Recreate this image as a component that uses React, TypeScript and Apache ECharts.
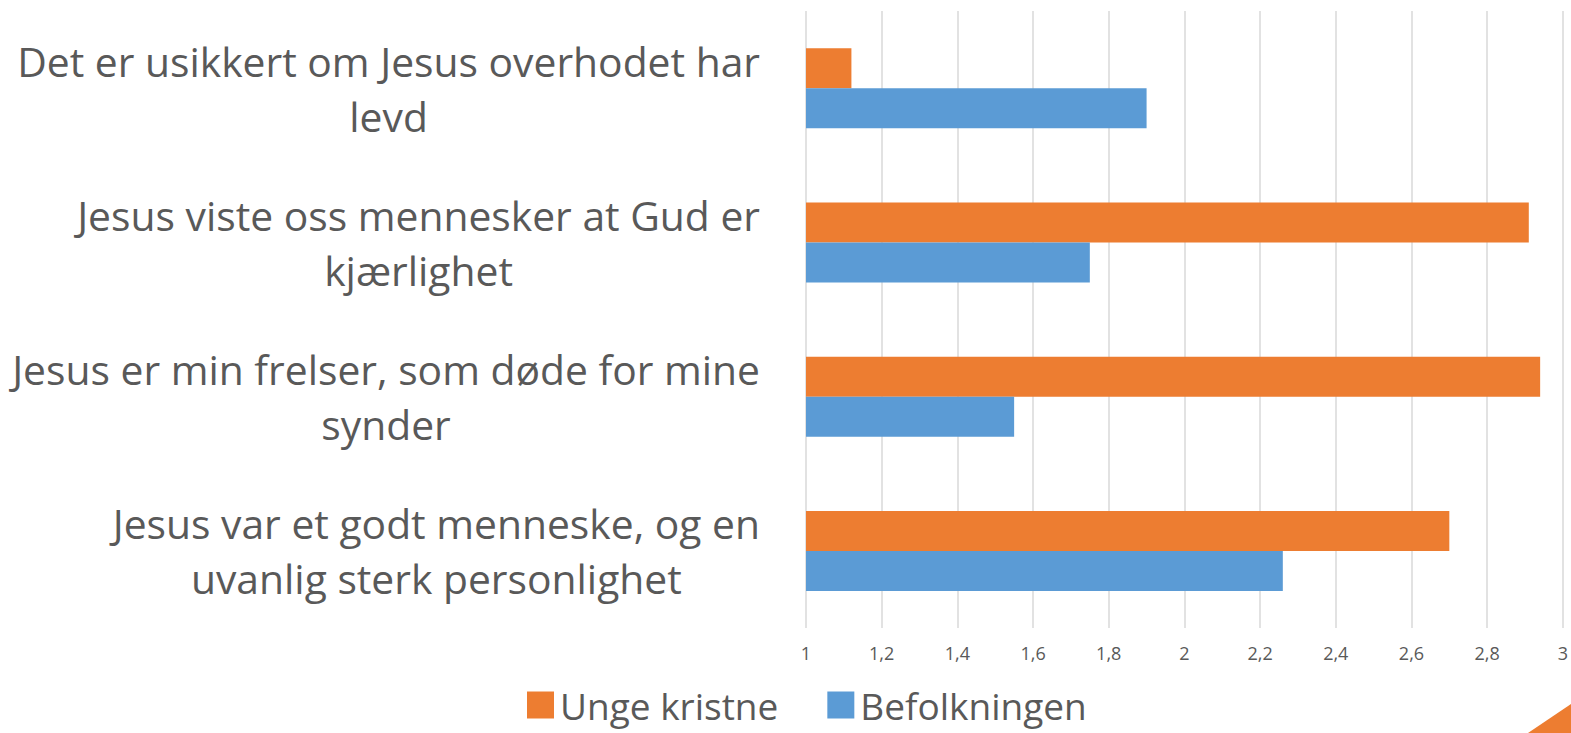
import React, { useEffect, useRef } from "react";
import * as echarts from "echarts";

const categories = [
  "Det er usikkert om Jesus overhodet har\nlevd",
  "Jesus viste oss mennesker at Gud er\nkjærlighet",
  "Jesus er min frelser, som døde for mine\nsynder",
  "Jesus var et godt menneske, og en\nuvanlig sterk personlighet",
];
const ungeKristne = [1.12, 2.91, 2.94, 2.7];
const befolkningen = [1.9, 1.75, 1.55, 2.26];
const seriesNames = ["Unge kristne", "Befolkningen"];
const xMin = 1;
const xMax = 3;
const xStep = 0.2;

const FONT = "'Open Sans', Lato, 'Noto Sans', sans-serif";
const TEXT = "#595959";

export default function App() {
  const ref = useRef<HTMLDivElement>(null);
  useEffect(() => {
    if (!ref.current) return;
    const chart = echarts.init(ref.current, null, { renderer: "svg" });
    chart.setOption({
      animation: false,
      backgroundColor: "#ffffff",
      grid: { left: 806, right: 3, top: 11, bottom: 105, containLabel: false },
      legend: {
        data: seriesNames,
        bottom: 8,
        left: 527,
        padding: 0,
        itemWidth: 27,
        itemHeight: 27,
        itemGap: 49,
        icon: "rect",
        textStyle: {
          fontSize: 37,
          lineHeight: 40,
          color: TEXT,
          fontFamily: FONT,
          padding: [0, 0, 0, 1],
        },
      },
      xAxis: {
        type: "value",
        min: xMin,
        max: xMax,
        interval: xStep,
        axisLine: { show: false },
        axisTick: { show: false },
        splitLine: { show: true, lineStyle: { color: "#d9d9d9", width: 1.5 } },
        axisLabel: {
          fontSize: 18,
          color: TEXT,
          fontFamily: FONT,
          margin: 16,
          formatter: (v: number) => String(Math.round(v * 10) / 10).replace(".", ","),
        },
      },
      yAxis: {
        type: "category",
        data: categories,
        inverse: true,
        axisLine: { show: false },
        axisTick: { show: false },
        axisLabel: {
          margin: 46,
          align: "right",
          formatter: (v: string) =>
            v
              .split("\n")
              .map((l) => "{a|" + l + "}")
              .join("\n"),
          rich: {
            a: {
              fontSize: 40.8,
              color: TEXT,
              fontFamily: FONT,
              lineHeight: 55,
              align: "center",
            },
          },
        },
      },
      series: [
        {
          name: seriesNames[0],
          type: "bar",
          data: ungeKristne,
          barWidth: 40,
          barGap: "0%",
          itemStyle: { color: "#ED7D31" },
        },
        {
          name: seriesNames[1],
          type: "bar",
          data: befolkningen,
          barWidth: 40,
          barGap: "0%",
          itemStyle: { color: "#5B9BD5" },
        },
      ],
      graphic: [
        {
          type: "polygon",
          shape: { points: [[1528, 733], [1571, 704], [1571, 733]] },
          style: { fill: "#ED7D31" },
          silent: true,
        },
      ],
    });
    return () => chart.dispose();
  }, []);
  return <div ref={ref} style={{ width: 1571, height: 733, position: "absolute", left: 0, top: 0 }} />;
}
